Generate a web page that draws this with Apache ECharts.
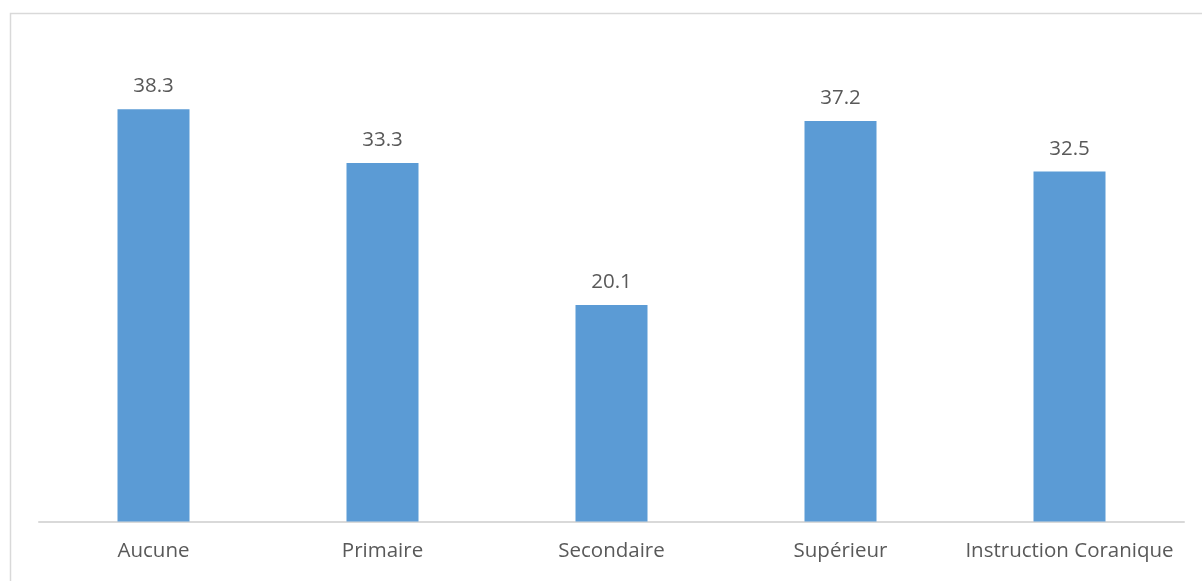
<!DOCTYPE html>
<html>
<head>
<meta charset="utf-8">
<script src="https://cdn.jsdelivr.net/npm/echarts@6/dist/echarts.min.js"></script>
<style>
  html, body { margin: 0; padding: 0; background: #ffffff; }
  #chart { width: 1202px; height: 581px; }
</style>
</head>
<body>
<div id="chart"></div>
<script>
// Education level categories and their values
const categories = ['Aucune', 'Primaire', 'Secondaire', 'Supérieur', 'Instruction Coranique'];
const values = [38.3, 33.3, 20.1, 37.2, 32.5];

const chart = echarts.init(document.getElementById('chart'), null, { renderer: 'canvas' });

const textColor = '#595959';
const fontFamily = '"Open Sans", "Noto Sans", sans-serif';

chart.setOption({
  animation: false,
  backgroundColor: '#ffffff',
  graphic: [{
    type: 'rect',
    shape: { x: 10.5, y: 13.5, width: 1400, height: 800 },
    style: { fill: 'none', stroke: '#d9d9d9', lineWidth: 1.5 },
    silent: true
  }],
  grid: { left: 39, right: 18, top: 37, bottom: 59.5 },
  xAxis: {
    type: 'category',
    data: categories,
    axisLine: { show: true, lineStyle: { color: '#d9d9d9', width: 2 } },
    axisTick: { show: false },
    axisLabel: {
      color: textColor,
      fontFamily: fontFamily,
      fontSize: 20.5,
      margin: 19,
      interval: 0
    }
  },
  yAxis: {
    type: 'value',
    min: 0,
    max: 45,
    show: false,
    splitLine: { show: false }
  },
  series: [{
    type: 'bar',
    data: values,
    barWidth: 72,
    itemStyle: { color: '#5b9bd5' },
    label: {
      show: true,
      position: 'top',
      distance: 12,
      color: textColor,
      fontFamily: fontFamily,
      fontSize: 20.5
    }
  }]
});
</script>
</body>
</html>
